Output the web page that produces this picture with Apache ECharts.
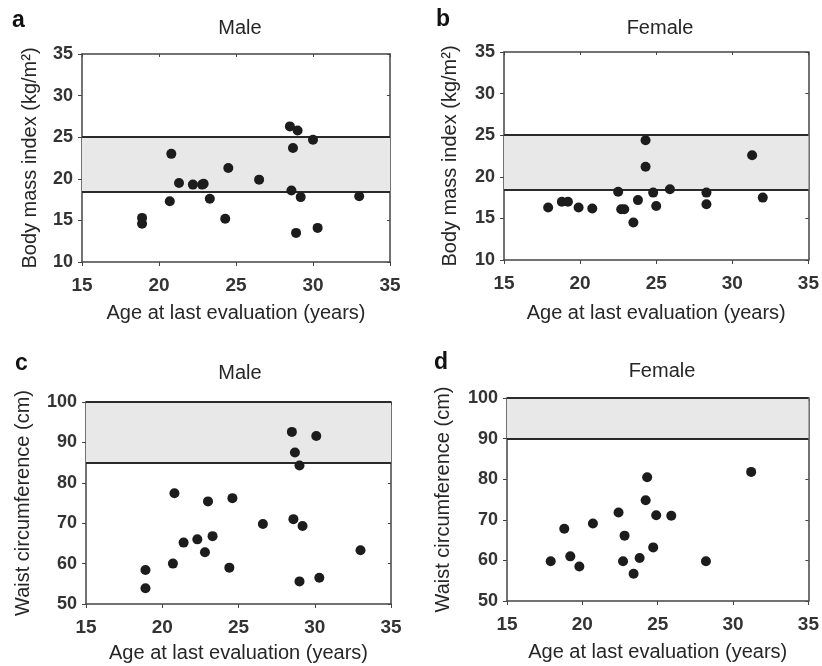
<!DOCTYPE html>
<html>
<head>
<meta charset="utf-8">
<title>BMI and waist circumference by age</title>
<script src="https://cdn.jsdelivr.net/npm/echarts@6.0.0/dist/echarts.min.js"></script>
<style>
  html, body { margin: 0; padding: 0; background: #fff; }
  #chart { width: 822px; height: 666px; }
</style>
</head>
<body>
<div id="chart"></div>
<script>
// a - male BMI
var maleBmiAge = [18.9, 18.9, 20.8, 20.7, 21.3, 22.2, 22.8, 22.9, 23.3, 24.3, 24.5, 26.5, 28.5, 29.0, 28.7, 30.0, 28.6, 29.2, 28.9, 30.3, 33.0];
var maleBmi    = [15.3, 14.6, 23.0, 17.3, 19.5, 19.3, 19.3, 19.4, 17.6, 15.2, 21.3, 19.9, 26.3, 25.8, 23.7, 24.7, 18.6, 17.8, 13.5, 14.1, 17.9];
// b - female BMI
var femaleBmiAge = [17.9, 18.8, 19.2, 19.9, 20.8, 22.5, 22.7, 22.9, 23.5, 23.8, 24.3, 24.3, 24.8, 25.0, 25.9, 28.3, 28.3, 31.3, 32.0];
var femaleBmi    = [16.3, 17.0, 17.0, 16.3, 16.2, 18.2, 16.1, 16.1, 14.5, 17.2, 24.4, 21.2, 18.1, 16.5, 18.5, 18.1, 16.7, 22.6, 17.5];
// c - male waist
var maleWaistAge = [18.9, 18.9, 20.7, 20.8, 21.4, 22.3, 22.8, 23.0, 23.3, 24.4, 24.6, 26.6, 28.5, 28.7, 29.0, 28.6, 29.2, 29.0, 30.1, 30.3, 33.0];
var maleWaist    = [58.4, 53.9, 60.0, 77.4, 65.2, 66.0, 62.8, 75.4, 66.8, 59.0, 76.2, 69.8, 92.6, 87.5, 84.3, 71.0, 69.3, 55.6, 91.6, 56.5, 63.3];
// d - female waist
var femaleWaistAge = [17.9, 18.8, 19.2, 19.8, 20.7, 22.4, 22.8, 22.7, 23.4, 23.8, 24.2, 24.3, 24.7, 24.9, 25.9, 28.2, 31.2];
var femaleWaist    = [59.8, 67.8, 61.0, 58.5, 69.1, 71.8, 66.1, 59.8, 56.7, 60.6, 74.8, 80.5, 63.2, 71.1, 71.0, 59.8, 81.8];

var xTicks = [15, 20, 25, 30, 35];
var bmiTicks = [10, 15, 20, 25, 30, 35];
var waistTicks = [50, 60, 70, 80, 90, 100];
// shaded reference ranges
var bmiRange = [18.5, 25];
var maleWaistRange = [85, 100];
var femaleWaistRange = [90, 100];

var panelLetters = ['a', 'b', 'c', 'd'];
var panelTitles = ['Male', 'Female', 'Male', 'Female'];

var fontFam = 'Liberation Sans, Arial, Helvetica, sans-serif';
var frameColor = '#444';
var textColor = '#262626';

var panels = [
	{ grid: { left: 82, top: 54, width: 308, height: 208 }, xs: maleBmiAge, ys: maleBmi, yTicks: bmiTicks, range: bmiRange,
	  yName: 'Body mass index (kg/m²)', yGap: 42, xGap: 41, letter: [7, 4], title: [235, 13] },
	{ grid: { left: 504, top: 52, width: 305, height: 208 }, xs: femaleBmiAge, ys: femaleBmi, yTicks: bmiTicks, range: bmiRange,
	  yName: 'Body mass index (kg/m²)', yGap: 44, xGap: 43, letter: [431, 3], title: [655, 13] },
	{ grid: { left: 86, top: 402, width: 305, height: 202 }, xs: maleWaistAge, ys: maleWaist, yTicks: waistTicks, range: maleWaistRange,
	  yName: 'Waist circumference (cm)', yGap: 53, xGap: 39, letter: [10, 347], title: [235, 358] },
	{ grid: { left: 507, top: 398, width: 303, height: 203 }, xs: femaleWaistAge, ys: femaleWaist, yTicks: waistTicks, range: femaleWaistRange,
	  yName: 'Waist circumference (cm)', yGap: 54, xGap: 41, letter: [429, 346], title: [657, 356] }
];

function buildOption() {
	var option = {
		backgroundColor: '#fff',
		animation: false,
		title: [],
		grid: [],
		xAxis: [],
		yAxis: [],
		series: []
	};
	for (var i = 0; i < panels.length; i++) {
		var p = panels[i];
		var yMin = p.yTicks[0], yMax = p.yTicks[p.yTicks.length - 1];
		var yStep = p.yTicks[1] - p.yTicks[0];
		option.grid.push(p.grid);
		option.title.push({
			text: panelLetters[i], left: p.letter[0], top: p.letter[1],
			textStyle: { fontFamily: fontFam, fontSize: 23, fontWeight: 'bold', color: '#111' }
		});
		option.title.push({
			text: panelTitles[i], left: p.title[0], top: p.title[1], textAlign: 'center',
			textStyle: { fontFamily: fontFam, fontSize: 20, fontWeight: 'normal', color: textColor }
		});
		// bottom axis
		option.xAxis.push({
			gridIndex: i, type: 'value', position: 'bottom', min: xTicks[0], max: xTicks[xTicks.length - 1], interval: 5,
			name: 'Age at last evaluation (years)', nameLocation: 'middle', nameGap: p.xGap,
			nameTextStyle: { fontFamily: fontFam, fontSize: 20, color: textColor },
			axisLine: { show: true, lineStyle: { color: frameColor, width: 1.5 } },
			axisTick: { show: true, length: 4, lineStyle: { color: frameColor } },
			axisLabel: { fontFamily: fontFam, fontSize: 19, fontWeight: 'bold', color: '#333', margin: 14 },
			splitLine: { show: false }
		});
		// top mirror axis (frame + inner ticks)
		option.xAxis.push({
			gridIndex: i, type: 'value', position: 'top', min: xTicks[0], max: xTicks[xTicks.length - 1], interval: 5,
			axisLine: { show: true, onZero: false, lineStyle: { color: frameColor, width: 1.5 } },
			axisTick: { show: true, inside: true, length: 3, lineStyle: { color: frameColor } },
			axisLabel: { show: false },
			splitLine: { show: false }
		});
		// left axis
		option.yAxis.push({
			gridIndex: i, type: 'value', position: 'left', min: yMin, max: yMax, interval: yStep,
			name: p.yName, nameLocation: 'middle', nameGap: p.yGap, nameRotate: 90,
			nameTextStyle: { fontFamily: fontFam, fontSize: 20, color: textColor },
			axisLine: { show: true, lineStyle: { color: frameColor, width: 1.5 } },
			axisTick: { show: true, length: 4, lineStyle: { color: frameColor } },
			axisLabel: { fontFamily: fontFam, fontSize: 18, fontWeight: 'bold', color: '#333', margin: 9 },
			splitLine: { show: false }
		});
		// right mirror axis
		option.yAxis.push({
			gridIndex: i, type: 'value', position: 'right', min: yMin, max: yMax, interval: yStep,
			axisLine: { show: true, onZero: false, lineStyle: { color: frameColor, width: 1.5 } },
			axisTick: { show: true, inside: true, length: 3, lineStyle: { color: frameColor } },
			axisLabel: { show: false },
			splitLine: { show: false }
		});
		// shaded band + its edges
		option.series.push({
			type: 'scatter', xAxisIndex: i * 2, yAxisIndex: i * 2, z: 1, data: [],
			markArea: {
				silent: true,
				itemStyle: { color: '#e8e8e8' },
				data: [[{ yAxis: p.range[0] }, { yAxis: p.range[1] }]]
			},
			markLine: {
				silent: true, symbol: 'none', label: { show: false },
				lineStyle: { color: '#2a2a2a', width: 2, type: 'solid' },
				data: [{ yAxis: p.range[0] }, { yAxis: p.range[1] }]
			}
		});
		option.series.push({
			type: 'scatter', xAxisIndex: i * 2, yAxisIndex: i * 2, z: 5,
			symbolSize: 10,
			itemStyle: { color: '#1c1c1c', opacity: 1 },
			data: p.xs.map(function(x, k) { return [x, p.ys[k]]; })
		});
	}
	return option;
}

var chart = echarts.init(document.getElementById('chart'), null, { renderer: 'canvas' });
chart.setOption(buildOption());
</script>
</body>
</html>
